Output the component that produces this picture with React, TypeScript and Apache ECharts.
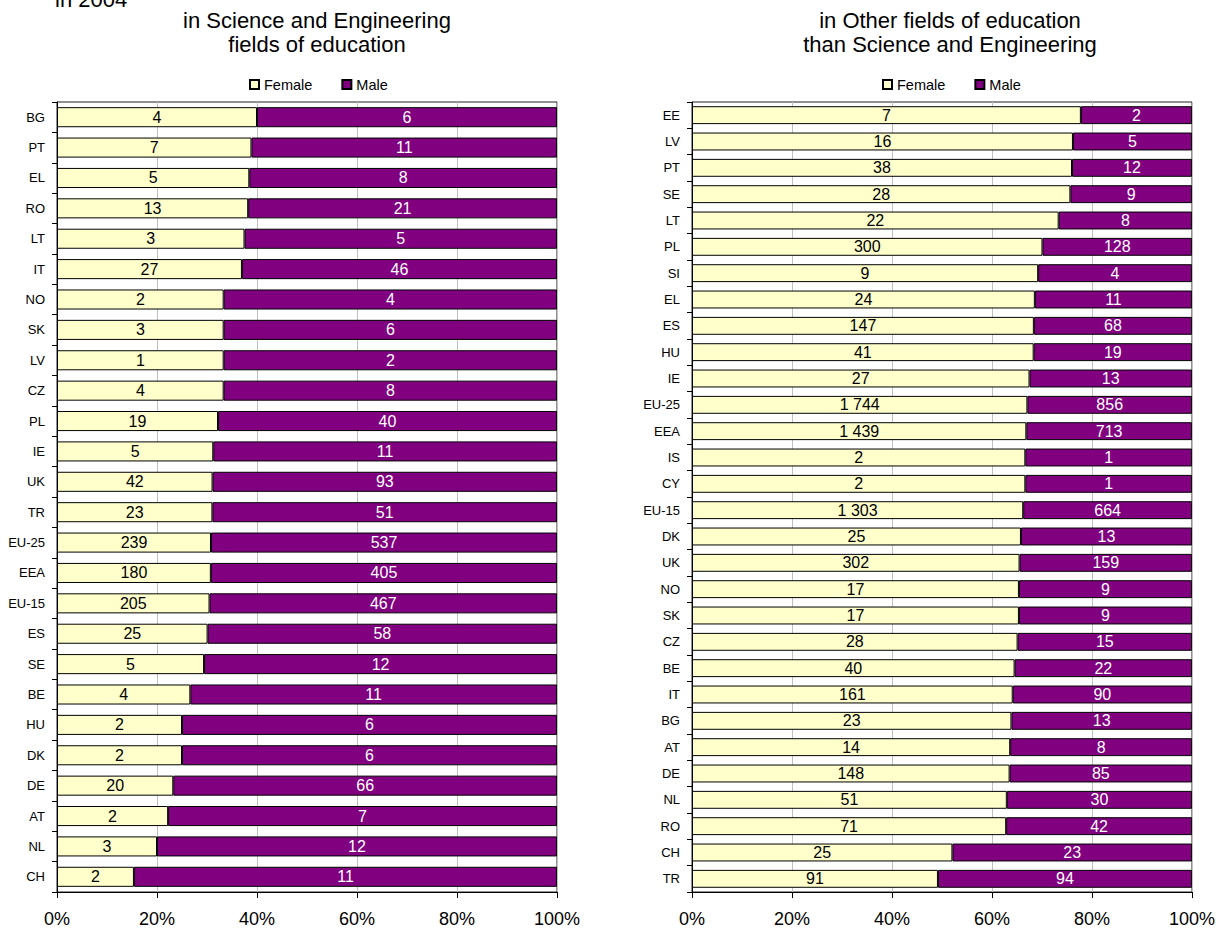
import React, { useEffect, useRef } from "react";
import * as echarts from "echarts";

const sciCountries = ["BG","PT","EL","RO","LT","IT","NO","SK","LV","CZ","PL","IE","UK","TR","EU-25","EEA","EU-15","ES","SE","BE","HU","DK","DE","AT","NL","CH"];
const sciFemale = [4,7,5,13,3,27,2,3,1,4,19,5,42,23,239,180,205,25,5,4,2,2,20,2,3,2];
const sciMale = [6,11,8,21,5,46,4,6,2,8,40,11,93,51,537,405,467,58,12,11,6,6,66,7,12,11];

const othCountries = ["EE","LV","PT","SE","LT","PL","SI","EL","ES","HU","IE","EU-25","EEA","IS","CY","EU-15","DK","UK","NO","SK","CZ","BE","IT","BG","AT","DE","NL","RO","CH","TR"];
const othFemale = [7,16,38,28,22,300,9,24,147,41,27,1744,1439,2,2,1303,25,302,17,17,28,40,161,23,14,148,51,71,25,91];
const othMale = [2,5,12,9,8,128,4,11,68,19,13,856,713,1,1,664,13,159,9,9,15,22,90,13,8,85,30,42,23,94];

const seriesNames = ["Female", "Male"];
const yearText = "in 2004";
const leftTitle = "in Science and Engineering\nfields of education";
const rightTitle = "in Other fields of education\nthan Science and Engineering";

const FONT = "'Liberation Sans', Arial, sans-serif";
const FEMALE_COLOR = "#FFFFCC";
const MALE_COLOR = "#800080";

function fmt(n: number): string {
  return String(n).replace(/\B(?=(\d{3})+(?!\d))/g, " ");
}
function share(a: number[], b: number[]): number[] {
  return a.map((v, i) => (v / (v + b[i])) * 100);
}

export default function App() {
  const ref = useRef<HTMLDivElement>(null);
  useEffect(() => {
    document.body.style.margin = "0";
    const chart = echarts.init(ref.current!, null, { renderer: "svg" });

    const xAxisCommon = {
      type: "value" as const,
      min: 0,
      max: 100,
      interval: 20,
      axisLine: { show: true, lineStyle: { color: "#000", width: 1 } },
      axisTick: { show: true, length: 6, lineStyle: { color: "#000" } },
      axisLabel: { formatter: "{value}%", fontSize: 18, color: "#000", fontFamily: FONT, margin: 18 },
      splitLine: { show: true, lineStyle: { color: "#c0c0c0", width: 1 } },
    };
    const yAxisCommon = {
      type: "category" as const,
      inverse: true,
      axisLine: { show: true, lineStyle: { color: "#000", width: 1 } },
      axisTick: { show: true, length: 5, lineStyle: { color: "#000" } },
      axisLabel: { fontSize: 13, color: "#000", fontFamily: FONT, margin: 12 },
      splitLine: { show: false },
    };

    const mkSeries = (name: string, idx: number, data: number[], raw: number[], color: string, labelColor: string, stack: string, gap: string) => ({
      name,
      type: "bar" as const,
      stack,
      xAxisIndex: idx,
      yAxisIndex: idx,
      data,
      barCategoryGap: gap,
      itemStyle: { color, borderColor: "#000", borderWidth: 1 },
      label: {
        show: true,
        position: "inside" as const,
        color: labelColor,
        fontSize: 16,
        fontFamily: FONT,
        formatter: (p: any) => fmt(raw[p.dataIndex]),
      },
      emphasis: { disabled: true },
    });

    const legendCommon = {
      orient: "horizontal" as const,
      padding: 0,
      itemWidth: 9,
      itemHeight: 9,
      itemGap: 29,
      icon: "rect",
      data: seriesNames,
      textStyle: { fontSize: 14.5, color: "#000", fontFamily: FONT },
      selectedMode: false,
    };

    chart.setOption({
      animation: false,
      backgroundColor: "#fff",
      textStyle: { fontFamily: FONT },
      graphic: [
        { type: "text", left: 55, top: -12, style: { text: yearText, font: `22px ${FONT}`, fill: "#000" } },
        { type: "text", x: 317, y: 8, style: { text: leftTitle, font: `22px ${FONT}`, fill: "#000", align: "center", verticalAlign: "top", lineHeight: 24 } },
        { type: "text", x: 950, y: 8, style: { text: rightTitle, font: `22px ${FONT}`, fill: "#000", align: "center", verticalAlign: "top", lineHeight: 24 } },
      ],
      legend: [
        { ...legendCommon, left: 249, top: 77 },
        { ...legendCommon, left: 882, top: 77 },
      ],
      grid: [
        { left: 57, right: 1219 - 557, top: 102, bottom: 928 - 892, show: true, borderColor: "#222", borderWidth: 1 },
        { left: 692, right: 1219 - 1192, top: 102, bottom: 928 - 892, show: true, borderColor: "#222", borderWidth: 1 },
      ],
      xAxis: [
        { ...xAxisCommon, gridIndex: 0 },
        { ...xAxisCommon, gridIndex: 1 },
      ],
      yAxis: [
        { ...yAxisCommon, gridIndex: 0, data: sciCountries },
        { ...yAxisCommon, gridIndex: 1, data: othCountries },
      ],
      series: [
        mkSeries(seriesNames[0], 0, share(sciFemale, sciMale), sciFemale, FEMALE_COLOR, "#000", "sci", "34%"),
        mkSeries(seriesNames[1], 0, share(sciMale, sciFemale), sciMale, MALE_COLOR, "#fff", "sci", "34%"),
        mkSeries(seriesNames[0], 1, share(othFemale, othMale), othFemale, FEMALE_COLOR, "#000", "oth", "32%"),
        mkSeries(seriesNames[1], 1, share(othMale, othFemale), othMale, MALE_COLOR, "#fff", "oth", "32%"),
      ],
    });
    return () => chart.dispose();
  }, []);
  return <div ref={ref} style={{ position: "absolute", left: 0, top: 0, width: 1219, height: 928 }} />;
}
